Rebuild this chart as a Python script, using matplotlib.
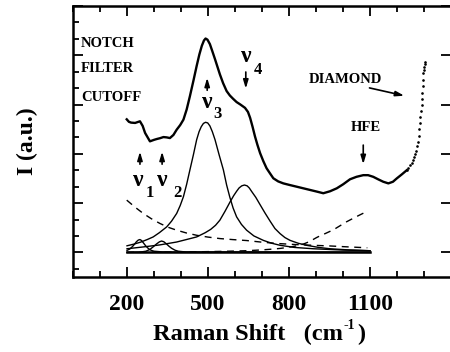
import numpy as np
import matplotlib
matplotlib.use('Agg')
import matplotlib.pyplot as plt
from matplotlib.ticker import MultipleLocator, FixedLocator

# measured spectrum (Raman shift in cm-1, intensity in arbitrary units)
exp_x = [199, 207, 215, 230, 248, 258, 267, 285, 300, 310, 322, 335, 347, 359, 372, 384,
         397, 409, 421, 433, 446, 458, 468, 477, 485, 491, 498, 507, 516, 526, 535, 544,
         556, 569, 581, 593, 606, 620, 637, 648, 656, 665, 674, 683, 693, 705, 717, 730,
         742, 760, 779, 803, 828, 853, 878, 903, 927, 952, 977, 1001, 1026, 1050, 1075,
         1093, 1112, 1130, 1149, 1168, 1185, 1199, 1218, 1236]
exp_y = [8.1, 7.95, 7.9, 7.88, 7.98, 7.7, 7.27, 6.76, 6.85, 6.9, 6.95, 7.02, 7.0, 6.96, 7.15, 7.47,
         7.75, 8.08, 8.7, 9.51, 10.45, 11.35, 12.05, 12.57, 12.9, 13.02, 12.95, 12.68, 12.25, 11.76, 11.3, 10.84,
         10.3, 9.82, 9.55, 9.35, 9.15, 9.0, 8.8, 8.55, 8.19, 7.65, 7.06, 6.55, 6.04, 5.55, 5.12, 4.8,
         4.51, 4.32, 4.2, 4.1, 4.0, 3.9, 3.8, 3.7, 3.6, 3.72, 3.9, 4.15, 4.45, 4.6, 4.7,
         4.7, 4.6, 4.45, 4.3, 4.2, 4.3, 4.5, 4.75, 5.0]
# diamond line wing (sparse points)
dia_x = [1236, 1242, 1248, 1254, 1260, 1264, 1268, 1272, 1275, 1278, 1280, 1283, 1285, 1287,
         1289, 1291, 1292, 1294, 1295, 1296, 1297, 1299, 1300, 1302, 1303]
dia_y = [5.0, 5.15, 5.3, 5.45, 5.63, 5.8, 6.0, 6.2, 6.45, 6.75, 7.1, 7.5, 7.88, 8.25,
         8.6, 8.95, 9.31, 9.7, 10.1, 10.5, 10.94, 11.1, 11.3, 11.45, 11.6]

# fitted components
nu3_x = [200, 225, 250, 275, 297, 320, 347, 365, 384, 397, 409, 421, 433, 446, 458, 467, 475,
         483, 491, 499, 507, 516, 526, 541, 557, 569, 581, 593, 606, 624, 643, 670, 705, 735,
         767, 820, 890, 1000, 1100]
nu3_y = [0.4, 0.5, 0.62, 0.78, 0.94, 1.2, 1.55, 1.9, 2.37, 2.85, 3.39, 4.15, 5.02, 5.95, 6.86, 7.35, 7.65,
         7.85, 7.92, 7.88, 7.7, 7.35, 6.86, 5.95, 5.02, 4.1, 3.35, 2.7, 2.16, 1.7, 1.35, 1.0, 0.73, 0.56,
         0.43, 0.3, 0.22, 0.14, 0.1]

nu4_x = [200, 260, 320, 384, 420, 458, 490, 510, 528, 544, 563, 581, 595, 606, 615, 625, 635,
         645, 653, 662, 677, 693, 711, 730, 748, 767, 785, 804, 835, 865, 910, 952, 1020, 1100]
nu4_y = [0.22, 0.33, 0.45, 0.63, 0.78, 0.94, 1.2, 1.4, 1.65, 1.96, 2.5, 3.05, 3.45, 3.72, 3.92, 4.05, 4.1,
         4.05, 3.92, 3.7, 3.35, 2.9, 2.4, 1.9, 1.45, 1.14, 0.9, 0.73, 0.55, 0.43, 0.3, 0.22, 0.15, 0.1]

nu1_x = [200, 210, 220, 228, 235, 242, 248, 254, 262, 270, 280, 290, 300, 330, 400, 1100]
nu1_y = [0.12, 0.2, 0.35, 0.5, 0.65, 0.75, 0.78, 0.72, 0.55, 0.38, 0.22, 0.12, 0.07, 0.03, 0.01, 0.0]

nu2_x = [200, 250, 270, 285, 298, 310, 320, 328, 336, 345, 355, 365, 378, 390, 420, 1100]
nu2_y = [0.0, 0.02, 0.07, 0.18, 0.35, 0.52, 0.64, 0.69, 0.65, 0.53, 0.38, 0.25, 0.13, 0.07, 0.02, 0.0]

bg_x = [199, 230, 260, 290, 322, 352, 384, 420, 458, 500, 544, 590, 643, 700, 767, 830, 890,
        952, 1010, 1075, 1090]
bg_y = [3.18, 2.75, 2.37, 2.05, 1.76, 1.53, 1.35, 1.18, 1.04, 0.93, 0.84, 0.78, 0.72, 0.62, 0.53, 0.47, 0.43,
        0.39, 0.34, 0.29, 0.28]

hfe_x = [200, 300, 400, 480, 550, 600, 643, 700, 740, 767, 790, 810, 826, 841, 857, 872, 887,
         902, 918, 935, 952, 970, 990, 1013, 1035, 1060, 1081]
hfe_y = [0.0, 0.01, 0.02, 0.04, 0.06, 0.08, 0.1, 0.15, 0.2, 0.24, 0.29, 0.34, 0.39, 0.45, 0.53, 0.63, 0.76,
         0.9, 1.03, 1.15, 1.28, 1.43, 1.63, 1.86, 2.05, 2.26, 2.43]

base_x = [200, 1100]
base_y = [0.0, 0.0]

serif = 'Liberation Serif'

fig = plt.figure(figsize=(4.5, 3.52), dpi=100)
ax = fig.add_axes([73/450, 1-277/352, 378/450, 271/352])

ax.plot(exp_x, exp_y, color='black', lw=1.7)
ax.plot(dia_x, dia_y, color='black', lw=0, marker='.', ms=1.8)
for cx, cy in [(nu3_x, nu3_y), (nu4_x, nu4_y), (nu1_x, nu1_y), (nu2_x, nu2_y)]:
	ax.plot(cx, cy, color='black', lw=1)
ax.plot(bg_x, bg_y, color='black', lw=1, ls=(0, (5, 4)))
ax.plot(hfe_x, hfe_y, color='black', lw=1, ls=(0, (5, 4)))
ax.plot(base_x, base_y, color='black', lw=1.8)

ax.set_xlim(0, 1400)
ax.set_ylim(-1.5, 15.0)

ax.xaxis.set_major_locator(FixedLocator([200, 500, 800, 1100]))
ax.xaxis.set_minor_locator(MultipleLocator(100))
ax.yaxis.set_major_locator(MultipleLocator(3))
ax.yaxis.set_minor_locator(MultipleLocator(1))
ax.tick_params(which='both', direction='in', top=True, right=True, width=1.3)
ax.tick_params(which='major', length=7)
ax.tick_params(which='minor', length=4)
ax.tick_params(axis='y', which='minor', right=False)
ax.tick_params(axis='x', which='major', pad=12)
ax.set_yticklabels([])
for lab in ax.get_xticklabels():
	lab.set_fontfamily(serif)
	lab.set_fontweight('bold')
	lab.set_fontsize(17)
for sp in ax.spines.values():
	sp.set_linewidth(1.8)

# x label, built from pieces so the superscript stays small
lbl = dict(fontfamily=serif, fontweight='bold', fontsize=17.6, va='baseline')
fig.text(343/450, 1-340/352, 'Raman Shift   (cm', ha='right', **lbl)
fig.text(344/450, 1-329/352, '-1', ha='left', fontfamily=serif, fontweight='bold', fontsize=10, va='baseline')
fig.text(357/450, 1-340/352, ')', ha='left', **lbl)
ax.set_ylabel('I (a.u.)', fontfamily=serif, fontweight='bold', fontsize=17, labelpad=22)

tk = dict(fontfamily=serif, fontweight='bold', fontsize=10.5)
ax.text(30, 12.73, 'NOTCH', va='center', **tk)
ax.text(30, 11.2, 'FILTER', va='center', **tk)
ax.text(30, 9.44, 'CUTOFF', va='center', **tk)
ax.text(1010, 10.5, 'DIAMOND', ha='center', va='center', **tk)
ax.text(1085, 7.6, 'HFE', ha='center', va='center', **tk)

nu = dict(fontfamily=serif, fontweight='bold', fontsize=17, ha='center', va='center')
sub = dict(fontfamily=serif, fontweight='bold', fontsize=12, ha='center', va='center')
ax.text(240, 4.4, 'ν', **nu)
ax.text(285, 3.6, '1', **sub)
ax.text(332, 4.4, 'ν', **nu)
ax.text(388, 3.6, '2', **sub)
ax.text(497, 9.1, 'ν', **nu)
ax.text(537, 8.4, '3', **sub)
ax.text(640, 11.95, 'ν', **nu)
ax.text(683, 11.1, '4', **sub)

arw = dict(arrowstyle='-|>,head_length=0.5,head_width=0.15', color='black', lw=1.2)
ax.annotate('', xy=(248, 6.3), xytext=(248, 5.2), arrowprops=arw)
ax.annotate('', xy=(330, 6.3), xytext=(330, 5.2), arrowprops=arw)
ax.annotate('', xy=(497, 10.8), xytext=(497, 9.7), arrowprops=arw)
ax.annotate('', xy=(640, 9.8), xytext=(640, 11.15), arrowprops=arw)
ax.annotate('', xy=(1075, 5.2), xytext=(1075, 6.7), arrowprops=arw)
ax.annotate('', xy=(1237, 9.5), xytext=(1088, 10.05), arrowprops=arw)

fig.savefig('out.png', dpi=100)
